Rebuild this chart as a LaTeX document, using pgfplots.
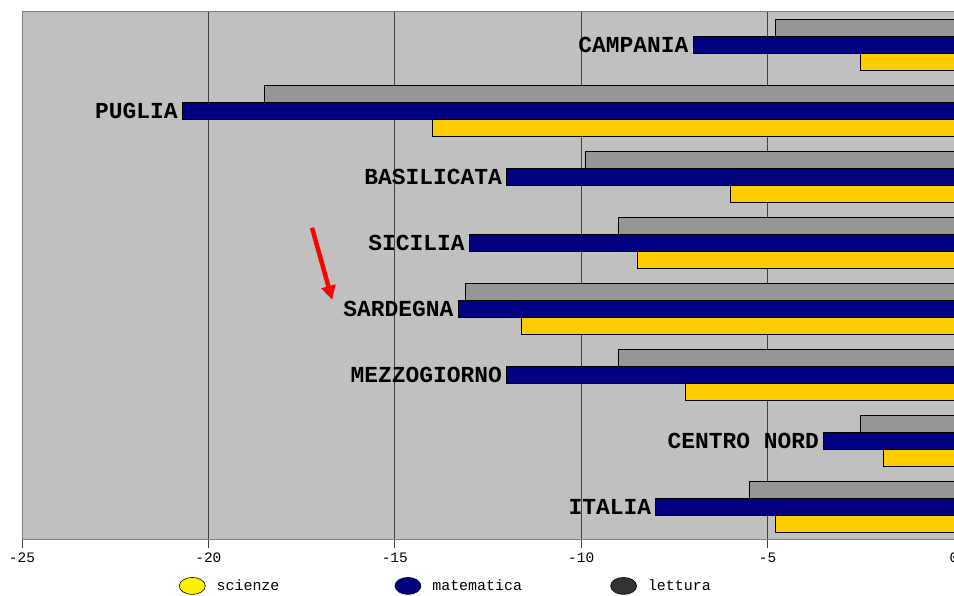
\documentclass[border=0pt]{standalone}
\usepackage{pgfplots}
\pgfplotsset{compat=1.18}
\usepackage{pgfplotstable}
\usepackage{fontspec}
\setmainfont{Liberation Mono}
\setmonofont{Liberation Mono}
\usetikzlibrary{arrows.meta}

\definecolor{bgray}{RGB}{192,192,192}
\definecolor{lgray}{RGB}{150,150,150}
\definecolor{navy}{RGB}{0,0,128}
\definecolor{gold}{RGB}{255,204,0}
\definecolor{legdark}{RGB}{51,51,51}

% variazione punteggi, regioni
\pgfplotstableread{
pos name          sci     mat     let
7   CAMPANIA      -2.5    -7.0    -4.8
6   PUGLIA        -14.0   -20.7   -18.5
5   BASILICATA    -6.0    -12.0   -9.9
4   SICILIA       -8.5    -13.0   -9.0
3   SARDEGNA      -11.6   -13.3   -13.1
2   MEZZOGIORNO   -7.2    -12.0   -9.0
1   {CENTRO NORD} -1.9    -3.5    -2.5
0   ITALIA        -4.8    -8.0    -5.5
}\dati

\begin{document}
\begin{tikzpicture}
\begin{axis}[
    name=ax,
    width=932bp, height=528bp,
    scale only axis,
    xbar,
    bar width=0.26,
    xmin=-25, xmax=0,
    ymin=-0.5, ymax=7.5,
    xtick={-25,-20,-15,-10,-5,0},
    xticklabels={-25,-20,-15,-10,-5,0},
    ytick=\empty,
    xtick pos=bottom,
    tick align=outside,
    major tick length=8bp,
    tick style={black!75, line width=1pt},
    xmajorgrids,
    grid style={black!75, line width=0.8pt},
    axis background/.style={fill=bgray},
    axis line style={black!50, line width=1pt},
    x axis line style={black!75, line width=1.5pt},
    ticklabel style={font=\fontsize{14.5}{16}\selectfont},
    xticklabel style={yshift=-1bp},
    legend columns=3,
    legend style={at={(0.165,-0.087)}, anchor=west, draw=none, fill=none,
        font=\fontsize{15}{17}\selectfont,
        /tikz/every even column/.append style={column sep=0bp},
        nodes={text width=176bp, align=left}},
    legend cell align=left,
]
\addplot[xbar, bar shift=-0.26, fill=gold, draw=black, line width=0.8pt,
    legend image code/.code={\draw[fill=yellow, draw=black, line width=0.6pt] (0.3cm,0) ellipse (13bp and 8.5bp);
        \path (0.3cm+22bp,0);}]
    table[x=sci, y=pos] {\dati};
\addlegendentry{scienze}
\addplot[xbar, bar shift=0, fill=navy, draw=black, line width=0.8pt,
    point meta=explicit symbolic,
    nodes near coords,
    nodes near coords style={anchor=east, xshift=-1bp, black,
        font=\fontsize{23}{25}\bfseries\selectfont},
    legend image code/.code={\draw[fill=navy, draw=black, line width=0.6pt] (0.3cm,0) ellipse (13bp and 8.5bp);
        \path (0.3cm+22bp,0);}]
    table[x=mat, y=pos, meta=name] {\dati};
\addlegendentry{matematica}
\addplot[xbar, bar shift=0.26, fill=lgray, draw=black, line width=0.8pt,
    legend image code/.code={\draw[fill=legdark, draw=black, line width=0.6pt] (0.3cm,0) ellipse (13bp and 8.5bp);
        \path (0.3cm+22bp,0);}]
    table[x=let, y=pos] {\dati};
\addlegendentry{lettura}

\draw[red, line width=4.5pt, -{Triangle[length=14bp, width=14bp]}]
    (axis cs:-17.22,4.23) -- (axis cs:-16.68,3.14);
\node[anchor=base, font=\fontsize{17}{19}\bfseries\selectfont]
    at ([yshift=6bp]rel axis cs:0.5,1) {variazione 2006-2009};
\end{axis}
\pgfresetboundingbox
\path ([xshift=-22bp, yshift=-56bp]ax.south west) rectangle ([yshift=12bp]ax.north east);
\end{tikzpicture}
\end{document}
